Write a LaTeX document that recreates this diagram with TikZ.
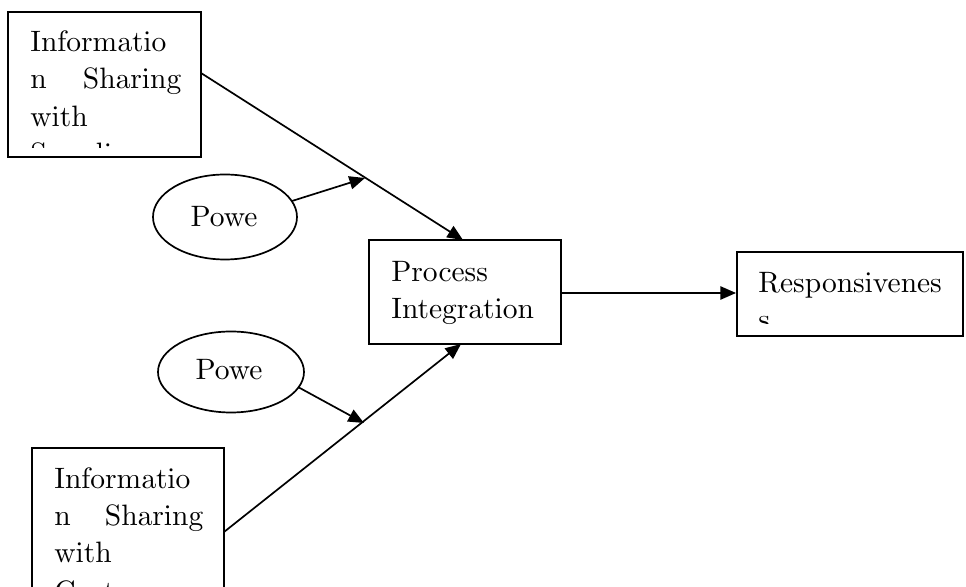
\documentclass[tikz,border=0pt]{standalone}
\usetikzlibrary{arrows.meta,shapes.geometric,fit}
\font\diagrm=cmr10 at 14.75pt
\begin{document}
\begin{tikzpicture}[x=0.5pt,y=-0.5pt,
  boxst/.style={draw,line width=0.95pt,inner sep=0pt,rectangle},
  ellst/.style={draw,line width=0.85pt,ellipse,inner sep=0pt},
  txt/.style={anchor=base west,inner sep=0pt,font=\diagrm},
  arr/.style={line width=0.85pt,-{Triangle[length=7.8pt,width=6.6pt]}}]
\useasboundingbox (0,0) rectangle (966,587);
\clip (0,0) rectangle (966,587);
% boxes
\node[boxst,fit={(8,12) (201,157)}] (b1) {};
\node[boxst,fit={(32,448) (224,600)}] (b2) {};
\node[boxst,fit={(369,240) (561,344)}] (pi) {};
\node[boxst,fit={(737,252) (963,336)}] (rs) {};
% box 1 text
\begin{scope}
\clip (10,14) rectangle (199,148);
\node[txt] (t11) at (30,52) {Informatio};
\node[txt,text width=75.5pt] (t12) at (30,89) {n\hfill Sharing};
\node[txt] (t13) at (30,127) {with};
\node[txt] (t14) at (30,164) {Supplier};
\end{scope}
% box 2 text
\node[txt] (t21) at (54,489) {Informatio};
\node[txt,text width=74.5pt] (t22) at (54,526) {n\hfill Sharing};
\node[txt] (t23) at (54,563) {with};
\node[txt] (t24) at (54,602) {Customer};
% process text
\node[txt] (t31) at (391,282) {Process};
\node[txt] (t32) at (391,319) {Integration};
% response text
\begin{scope}
\clip (739,254) rectangle (961,324);
\node[txt] (t41) at (758,293) {Responsivenes};
\node[txt] (t42) at (758,330) {s};
\end{scope}
% ellipses
\node[ellst,minimum width=72pt,minimum height=42.5pt] (e1) at (225,217) {};
\node[txt,anchor=base] (p1) at (224,227) {Powe};
\node[ellst,minimum width=73pt,minimum height=40.5pt] (e2) at (231,372) {};
\node[txt,anchor=base] (p2) at (229,380) {Powe};
% connection points
\coordinate (s1) at (201,73);
\coordinate (e1t) at (463,240);
\coordinate (m1) at (365,178);
\coordinate (s2) at (224,532);
\coordinate (e2t) at (461,344);
\coordinate (m2) at (364,423);
\coordinate (o1) at (292,201);
\coordinate (o2) at (298,387);
% connectors
\draw[arr] (s1) -- (e1t);
\draw[arr] (s2) -- (e2t);
\draw[arr] (o1) -- (m1);
\draw[arr] (o2) -- (m2);
\draw[arr] (pi.east |- 0,293) -- (rs.west |- 0,293);
\end{tikzpicture}
\end{document}
